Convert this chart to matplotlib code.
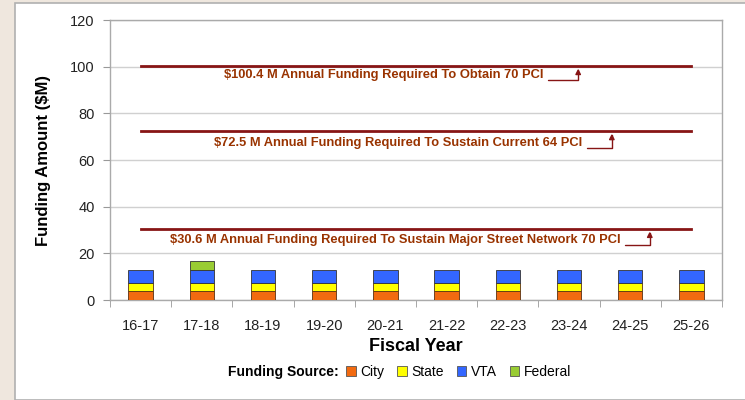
import numpy as np
import matplotlib.pyplot as plt
from matplotlib.patches import Rectangle, Patch

plt.rcParams['font.family'] = ['Liberation Sans', 'DejaVu Sans']

# data
years = ['16-17', '17-18', '18-19', '19-20', '20-21', '21-22', '22-23', '23-24', '24-25', '25-26']
city = [4.0, 4.0, 4.0, 4.0, 4.0, 4.0, 4.0, 4.0, 4.0, 4.0]
state = [3.5, 3.5, 3.5, 3.5, 3.5, 3.5, 3.5, 3.5, 3.5, 3.5]
vta = [5.5, 5.5, 5.5, 5.5, 5.5, 5.5, 5.5, 5.5, 5.5, 5.5]
federal = [0, 3.8, 0, 0, 0, 0, 0, 0, 0, 0]

targets = [100.4, 72.5, 30.6]
target_labels = ['$100.4 M Annual Funding Required To Obtain 70 PCI',
                 '$72.5 M Annual Funding Required To Sustain Current 64 PCI',
                 '$30.6 M Annual Funding Required To Sustain Major Street Network 70 PCI']

colors = {'City': '#f26a10', 'State': '#ffff00', 'VTA': '#3366ff', 'Federal': '#99cc33'}
line_col = '#871515'
txt_col = '#993300'

fig = plt.figure(figsize=(7.45, 4.0), dpi=100)
fig.patch.set_facecolor('#efe7de')
# white slide panel
fig.add_artist(Rectangle((15 / 745, 0), 1, 1 - 3 / 400, transform=fig.transFigure,
                         facecolor='white', edgecolor='#b0b0b0', lw=1.2, zorder=0))

ax = fig.add_axes([110 / 745, 0.25, 612 / 745, 0.70])
ax.set_facecolor('white')
x = np.arange(len(years))
w = 0.4
c = np.array(city)
s = np.array(state)
v = np.array(vta)
f = np.array(federal)
ax.bar(x, c, w, color=colors['City'], edgecolor='#5a3010', lw=0.6, zorder=3)
ax.bar(x, s, w, bottom=c, color=colors['State'], edgecolor='#5a3010', lw=0.6, zorder=3)
ax.bar(x, v, w, bottom=c + s, color=colors['VTA'], edgecolor='#333333', lw=0.6, zorder=3)
ax.bar(x[f > 0], f[f > 0], w, bottom=(c + s + v)[f > 0], color=colors['Federal'],
       edgecolor='#333333', lw=0.6, zorder=3)

# target lines (drawn across the category centres)
label_right = [6.58, 7.22, 7.84]
arrow_x = [7.15, 7.7, 8.32]
text_off = [4.0, 5.2, 4.9]
for val, lab, xr, xa, off in zip(targets, target_labels, label_right, arrow_x, text_off):
    ax.plot([x[0], x[-1]], [val, val], color=line_col, lw=2, zorder=4)
    ty = val - off
    ax.text(xr, ty, lab, ha='right', va='center', color=txt_col,
            fontsize=9.3, fontweight='bold', zorder=5)
    ax.annotate('', xy=(xa, val - 1.2), xytext=(xr + 0.08, ty - 2.0),
                arrowprops=dict(arrowstyle='-|>', color=line_col, lw=1,
                                mutation_scale=8, shrinkA=0, shrinkB=0,
                                connectionstyle='angle,angleA=0,angleB=90,rad=0'),
                zorder=5)

ax.set_xlim(-0.5, len(years) - 0.5)
ax.set_ylim(0, 120)
ax.set_yticks(np.arange(0, 121, 20))
ax.set_xticks(x)
ax.set_xticklabels(years)
ax.set_xticks(np.arange(-0.5, len(years), 1), minor=True)
ax.tick_params(axis='x', which='major', length=0, pad=14, labelsize=10.5, colors='#222222')
ax.tick_params(axis='x', which='minor', length=5, direction='out', color='#999999')
ax.tick_params(axis='y', length=5, direction='out', color='#999999', labelsize=10.5,
               labelcolor='#222222', pad=6)
ax.grid(axis='y', color='#d0d0d0', lw=1, zorder=0)
for sp in ax.spines.values():
    sp.set_color('#aaaaaa')
    sp.set_linewidth(1)

ax.set_xlabel('Fiscal Year', fontsize=13, fontweight='bold', labelpad=3)
ax.set_ylabel('Funding Amount ($M)', fontsize=12, fontweight='bold', labelpad=14)

fig.text(228 / 745, 1 - 372 / 400, 'Funding Source:', ha='left', va='center',
         fontsize=10, fontweight='bold')
handles = [Patch(facecolor=colors[k], edgecolor='#555555', lw=0.6) for k in colors]
fig.legend(handles, list(colors.keys()), loc='center left', ncol=4,
           bbox_to_anchor=(346 / 745, 1 - 372 / 400), frameon=False,
           fontsize=10, handlelength=0.7, handleheight=0.7, handletextpad=0.3,
           columnspacing=0.95, borderaxespad=0, borderpad=0)

fig.savefig('out.png', dpi=100, facecolor=fig.get_facecolor())
